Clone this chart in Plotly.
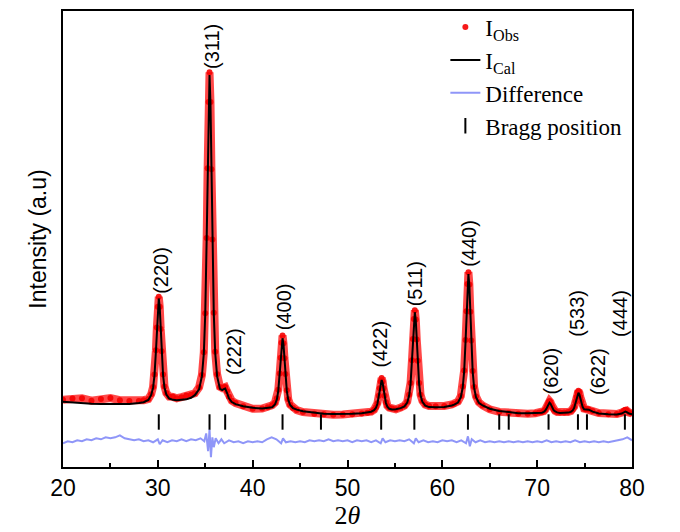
import plotly.graph_objects as go

# ---- data (intensity in arbitrary units) ----
two_theta = [20.0, 21.0, 22.0, 23.0, 24.0, 25.0, 26.0, 27.0, 28.0, 28.5, 29.0, 29.3, 29.5, 29.65, 29.8, 29.9,
             30.0, 30.1, 30.2, 30.3, 30.4, 30.55, 30.7, 30.9, 31.2, 31.6, 32.0, 32.5, 33.0, 33.5, 33.9, 34.35,
             34.65, 34.85, 35.0, 35.15, 35.25, 35.35, 35.45, 35.55, 35.65, 35.75, 35.9, 36.05, 36.25, 36.55,
             36.8, 36.95, 37.1, 37.3, 37.5, 37.8, 38.2, 39.0, 40.0, 41.0, 41.6, 42.05, 42.35, 42.55, 42.7,
             42.85, 42.95, 43.05, 43.15, 43.25, 43.35, 43.45, 43.6, 43.75, 43.95, 44.25, 44.65, 45.3, 46.5,
             47.5, 48.5, 49.5, 50.5, 51.5, 52.1, 52.5, 52.8, 53.0, 53.15, 53.3, 53.4, 53.5, 53.6, 53.7, 53.8,
             53.9, 54.05, 54.2, 54.4, 54.7, 55.1, 55.6, 56.0, 56.3, 56.5, 56.65, 56.8, 56.9, 57.0, 57.1, 57.2,
             57.3, 57.4, 57.55, 57.7, 57.9, 58.2, 58.6, 59.3, 60.2, 61.0, 61.25, 61.65, 61.95, 62.15, 62.3,
             62.45, 62.55, 62.65, 62.75, 62.85, 62.95, 63.05, 63.2, 63.35, 63.55, 63.85, 64.25, 65.0, 66.0,
             67.0, 68.0, 69.0, 69.8, 70.2, 70.5, 70.7, 70.85, 71.0, 71.1, 71.2, 71.3, 71.4, 71.5, 71.6, 71.75,
             71.9, 72.1, 72.4, 72.85, 73.25, 73.55, 73.75, 73.9, 74.05, 74.15, 74.25, 74.35, 74.45, 74.55,
             74.65, 74.8, 74.95, 75.15, 75.3, 75.45, 75.85, 76.5, 77.5, 78.4, 78.9, 79.15, 79.3, 79.45, 79.7, 80.0]

i_calc = [66.0, 65.2, 64.5, 64.0, 63.8, 63.7, 63.5, 63.8, 64.6, 65.5, 67.8, 72.8, 80.2, 92.9, 117.3, 140.0,
          161.2, 170.4, 161.2, 140.1, 117.4, 93.0, 80.4, 73.3, 69.2, 67.9, 67.5, 67.6, 68.4, 70.0, 72.6, 78.6,
          91.8, 115.0, 154.7, 230.8, 301.6, 367.5, 396.3, 367.7, 301.8, 231.0, 155.3, 115.2, 91.8, 79.0,
          77.8, 78.8, 79.4, 74.8, 69.4, 65.7, 63.6, 61.4, 59.8, 59.2, 59.5, 60.4, 63.2, 68.3, 77.0,
          93.7, 109.3, 123.8, 130.2, 123.8, 109.3, 93.6, 76.9, 68.1, 62.7, 59.6, 58.0, 56.3, 54.6,
          53.8, 53.5, 53.5, 53.8, 54.3, 55.1, 55.9, 57.4, 59.8, 63.7, 71.3, 78.5, 85.0, 87.9, 85.1, 78.6,
          71.6, 64.7, 61.0, 58.9, 58.2, 58.4, 59.5, 61.3, 65.1, 72.2, 84.0, 106.9, 128.1, 147.9, 156.5, 147.9,
          128.2, 107.0, 84.2, 72.4, 65.8, 62.1, 60.6, 60.3, 60.7, 62.2, 63.0, 65.2, 70.7, 80.3, 96.5,
          127.5, 156.4, 183.3, 195.0, 183.3, 156.4, 127.5, 96.5, 80.2, 70.6, 64.9, 62.2, 58.9, 56.7,
          55.5, 54.3, 54.3, 54.4, 54.5, 54.9, 55.7, 57.0, 59.5, 61.9, 64.0, 65.1, 64.1, 62.0, 59.6, 57.2,
          56.1, 55.2, 54.7, 54.7, 55.0, 55.7, 57.2, 59.7, 64.5, 69.0, 73.2, 75.0, 73.4, 69.3,
          65.0, 60.5, 58.3, 58.0, 58.0, 58.0, 56.0, 54.2, 53.3, 53.2, 54.0, 55.4, 56.0, 55.4, 54.0, 53.3]

i_obs = [68.0, 69.2, 69.5, 67.0, 68.8, 69.7, 67.5, 66.8, 66.6, 67.5, 68.8, 73.5, 81.0, 93.5, 118.0, 141.0,
         162.0, 172.0, 162.0, 139.5, 117.0, 93.5, 81.5, 74.8, 71.2, 70.9, 69.5, 70.6, 72.4, 73.0, 74.6, 80.6,
         93.0, 116.0, 155.5, 231.5, 302.0, 369.0, 399.0, 369.0, 301.0, 230.0, 156.0, 116.5, 93.8, 81.0,
         79.8, 80.5, 80.9, 76.5, 71.0, 67.0, 64.6, 61.4, 58.8, 59.2, 60.5, 62.4, 65.0, 69.5, 78.0,
         94.5, 110.5, 125.5, 133.0, 125.0, 110.0, 94.0, 77.5, 68.5, 63.0, 59.6, 57.5, 55.5, 53.8,
         53.3, 52.8, 53.0, 53.3, 54.0, 54.8, 55.9, 57.9, 60.5, 64.5, 72.0, 79.5, 86.5, 89.9, 86.5, 79.5,
         72.0, 65.5, 62.0, 60.0, 59.2, 58.4, 60.0, 62.0, 66.0, 73.0, 85.0, 108.0, 129.5, 149.5, 158.5, 149.0,
         129.0, 107.5, 85.0, 73.0, 66.8, 63.1, 61.6, 61.3, 61.7, 63.2, 64.0, 66.2, 71.7, 81.3, 97.5,
         128.5, 157.5, 185.0, 197.0, 184.5, 157.0, 128.0, 97.0, 80.8, 71.2, 65.4, 62.2, 58.4, 55.7,
         54.5, 53.8, 53.8, 54.4, 55.0, 55.4, 56.5, 58.0, 60.5, 63.0, 65.5, 66.6, 65.5, 63.0, 60.5, 58.0,
         56.6, 55.7, 55.2, 55.2, 55.5, 56.5, 58.2, 61.0, 66.0, 70.8, 75.2, 77.0, 75.2, 70.8,
         66.3, 61.5, 59.0, 58.5, 58.5, 58.2, 56.5, 54.5, 53.3, 53.5, 55.0, 57.0, 58.0, 57.0, 55.0, 54.0]

diff_theta = [20.0, 20.5, 21.0, 21.5, 22.0, 22.5, 23.0, 23.5, 24.0, 24.5, 25.0, 25.5, 26.0, 26.5, 27.0, 27.5,
              28.0, 28.5, 29.0, 29.5, 30.0, 30.2, 30.5, 31.0, 31.5, 32.0, 32.5, 33.0, 33.5, 34.0, 34.5, 34.9,
              35.1, 35.3, 35.45, 35.6, 35.75, 35.9, 36.1, 36.4, 36.7, 37.0, 37.5, 38.0, 38.5, 39.0, 39.5,
              40.0, 40.5, 41.0, 41.5, 42.0, 42.5, 43.0, 43.2, 43.5, 44.0, 44.5, 45.0, 45.5, 46.0, 46.5,
              47.0, 47.5, 48.0, 48.5, 49.0, 49.5, 50.0, 50.5, 51.0, 51.5, 52.0, 52.5, 53.0, 53.5, 53.7,
              54.0, 54.5, 55.0, 55.5, 56.0, 56.5, 57.0, 57.2, 57.5, 58.0, 58.5, 59.0, 59.5, 60.0, 60.5,
              61.0, 61.5, 62.0, 62.5, 62.7, 62.9, 63.1, 63.5, 64.0, 64.5, 65.0, 65.5, 66.0, 66.5, 67.0,
              67.5, 68.0, 68.5, 69.0, 69.5, 70.0, 70.5, 71.0, 71.5, 72.0, 72.5, 73.0, 73.5, 74.0, 74.5,
              75.0, 75.5, 76.0, 76.5, 77.0, 77.5, 78.0, 78.5, 79.0, 79.5, 80.0]
i_diff = [24, 26, 25, 27, 26, 28, 27, 29, 28, 30, 29, 30, 32, 29, 28, 27,
          28, 26, 27, 25, 28, 23, 27, 25, 27, 26, 28, 26, 28, 27, 29, 26,
          34, 16, 38, 10, 30, 20, 29, 24, 28, 24, 27, 25, 26, 24, 26,
          25, 26, 25, 28, 30, 28, 24, 29, 25, 26, 25, 26, 25, 27, 26,
          27, 26, 28, 26, 27, 26, 27, 25, 27, 26, 27, 25, 27, 24, 29,
          25, 27, 26, 27, 26, 28, 24, 29, 25, 27, 25, 26, 25, 27, 26,
          27, 25, 27, 24, 31, 21, 28, 25, 27, 25, 26, 25, 26, 25, 26,
          25, 26, 25, 26, 25, 26, 25, 27, 25, 26, 25, 26, 25, 27, 25,
          26, 25, 26, 25, 26, 25, 26, 27, 28, 30, 27]

bragg_theta = [30.1, 35.45, 37.1, 43.15, 47.2, 53.55, 57.05, 62.7, 66.0, 67.0, 71.2, 74.3, 75.25, 79.25]
bragg_level = 45.5

hkl_labels = ["(220)", "(311)", "(222)", "(400)", "(422)", "(511)", "(440)", "(620)", "(533)", "(622)", "(444)"]
hkl_x = [30.3, 35.65, 38.1, 43.25, 53.45, 57.15, 62.85, 71.5, 74.2, 76.4, 78.65]
hkl_y = [199, 425, 117, 162, 124, 185, 226, 97, 155, 97, 155]

x_ticks = [20, 30, 40, 50, 60, 70, 80]

# ---- figure ----
fig = go.Figure()

fig.add_trace(go.Scatter(x=two_theta, y=i_obs, mode="lines", showlegend=False, hoverinfo="skip",
                         line=dict(color="rgba(255,20,20,0.78)", width=8)))
fig.add_trace(go.Scatter(x=two_theta, y=i_obs, mode="markers", name="I<sub>Obs</sub>",
                         marker=dict(color="rgb(245,0,0)", size=6, opacity=0.9)))
fig.add_trace(go.Scatter(x=two_theta, y=i_calc, mode="lines", name="I<sub>Cal</sub>",
                         line=dict(color="black", width=2)))
fig.add_trace(go.Scatter(x=diff_theta, y=i_diff, mode="lines", name="Difference",
                         line=dict(color="rgba(105,115,245,0.75)", width=2)))
fig.add_trace(go.Scatter(x=bragg_theta, y=[bragg_level] * len(bragg_theta), mode="markers",
                         name="Bragg position",
                         marker=dict(symbol="line-ns-open", size=11, color="black",
                                     line=dict(color="black", width=2))))

for lab, lx, ly in zip(hkl_labels, hkl_x, hkl_y):
    fig.add_annotation(x=lx, y=ly, text=lab, showarrow=False, textangle=-90,
                       xanchor="center", yanchor="middle",
                       font=dict(family="Liberation Sans, Arial", size=20, color="black"))

fig.update_layout(
    width=680, height=532,
    margin=dict(l=63, r=48, t=6, b=65),
    paper_bgcolor="white", plot_bgcolor="white",
    showlegend=True,
    legend=dict(x=0.672, y=1.012, xanchor="left", yanchor="top",
                bgcolor="rgba(0,0,0,0)", borderwidth=0, tracegroupgap=0,
                font=dict(family="Liberation Serif, Times New Roman", size=23, color="black")),
    xaxis=dict(range=[20, 80], tickvals=x_ticks, ticks="inside", ticklen=7, tickwidth=1.5,
               tickcolor="black", showline=True, linecolor="black", linewidth=1.5, mirror=True,
               showgrid=False, zeroline=False,
               minor=dict(dtick=5, ticks="inside", ticklen=4, tickwidth=1.5, tickcolor="black", showgrid=False),
               tickfont=dict(family="Liberation Sans, Arial", size=23, color="black"),
               title=dict(text="2<i>θ</i>", standoff=4,
                          font=dict(family="Liberation Serif, Times New Roman", size=26, color="black"))),
    yaxis=dict(range=[0, 461], showticklabels=False, ticks="", showline=True, linecolor="black",
               linewidth=1.5, mirror=True, showgrid=False, zeroline=False,
               title=dict(text="Intensity (a.u)", standoff=8,
                          font=dict(family="Liberation Sans, Arial", size=23, color="black"))),
)

fig.write_html("out.html")
